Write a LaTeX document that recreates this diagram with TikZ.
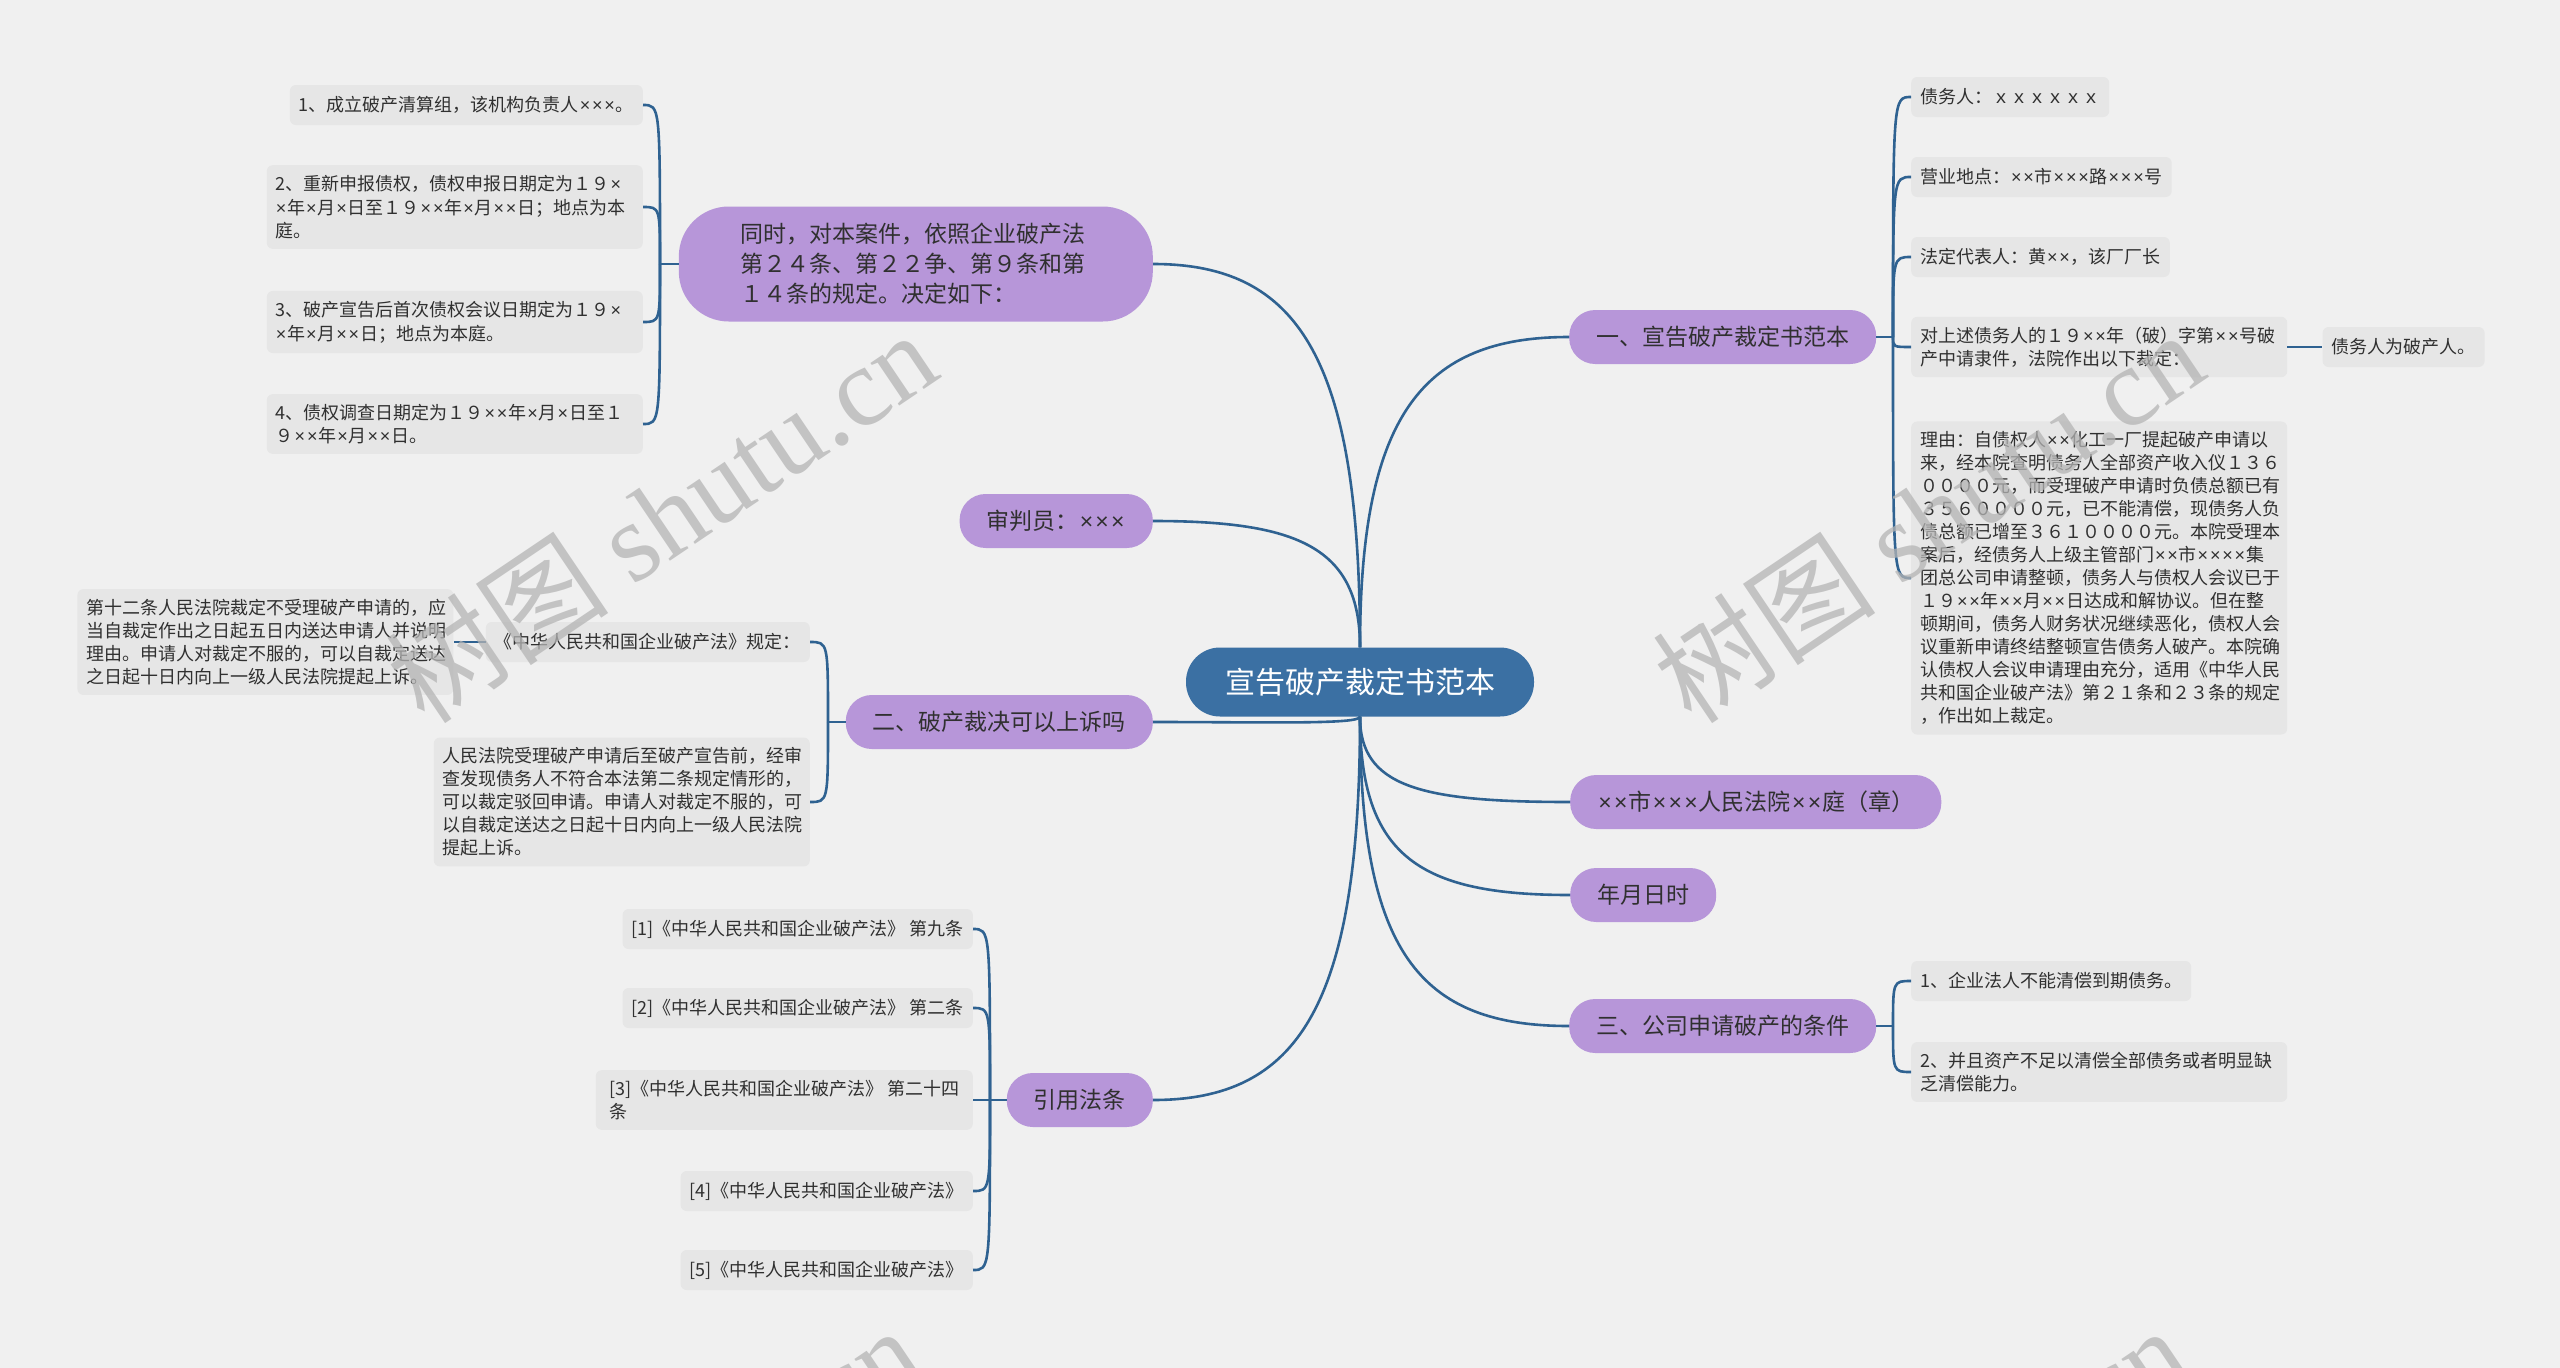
\documentclass[tikz,border=0pt]{standalone}
\usepackage{fontspec}
\usepackage{newunicodechar}
\newfontfamily\cjk{Noto Sans CJK SC}
\newfontfamily\latinx{Liberation Sans}
\newfontfamily\wmserif{Liberation Serif}
\newunicodechar{×}{{\latinx\kern0.05em\char"00D7\kern0.05em}}
\usetikzlibrary{positioning}
\definecolor{bgcol}{HTML}{F0F0F0}
\definecolor{leafcol}{HTML}{E6E6E6}
\definecolor{purplecol}{HTML}{B796D9}
\definecolor{rootcol}{HTML}{3B70A3}
\definecolor{linecol}{HTML}{2F6291}
\definecolor{txtcol}{HTML}{303030}
\definecolor{wmcol}{HTML}{B4B4B4}
\tikzset{
  leaf/.style={fill=leafcol, rounded corners=6pt, inner xsep=9pt, inner ysep=10pt, minimum height=40pt, align=left, text=txtcol, font=\cjk\fontsize{18pt}{23pt}\selectfont},
  branch/.style={fill=purplecol, rounded corners=26pt, minimum height=54pt, inner xsep=27pt, text=txtcol, font=\cjk\fontsize{23pt}{30pt}\selectfont},
  rootnode/.style={fill=rootcol, rounded corners=34pt, minimum width=348pt, minimum height=69pt, text=white, font=\cjk\fontsize{30pt}{36pt}\selectfont},
  link/.style={draw=linecol, line width=2.6pt},
  watermark/.style={rotate=34, text=wmcol, opacity=0.75, font=\cjk\fontsize{112pt}{112pt}\selectfont}
}

\begin{document}
\begin{tikzpicture}[x=1pt,y=1pt]
\fill[bgcol] (0,0) rectangle (2560,-1368);
\useasboundingbox (0,0) rectangle (2560,-1368);
\clip (0,0) rectangle (2560,-1368);

\node[rootnode] (root) at (1360,-682) {宣告破产裁定书范本};

% left side
\node[branch, anchor=east, text width=350pt, minimum height=115pt, rounded corners=50pt, inner xsep=62pt, align=left] (tongshi) at (1153,-264) {同时，对本案件，依照企业破产法\\第２４条、第２２争、第９条和第\\１４条的规定。决定如下：};
\node[branch, anchor=east] (shenpan) at (1153,-521) {审判员：×××};
\node[branch, anchor=east] (shangsu) at (1153,-722) {二、破产裁决可以上诉吗};
\node[branch, anchor=east] (fatiao) at (1153,-1100) {引用法条};

\node[leaf, anchor=east] (jd1) at (643,-105) {1、成立破产清算组，该机构负责人×××。};
\node[leaf, anchor=east, text width=358pt] (jd2) at (643,-207) {2、重新申报债权，债权申报日期定为１９×\\×年×月×日至１９××年×月××日；地点为本\\庭。};
\node[leaf, anchor=east, text width=358pt] (jd3) at (643,-322) {3、破产宣告后首次债权会议日期定为１９×\\×年×月××日；地点为本庭。};
\node[leaf, anchor=east, text width=358pt] (jd4) at (643,-424) {4、债权调查日期定为１９××年×月×日至１\\９××年×月××日。};

\node[leaf, anchor=east] (guiding) at (810,-642) {《中华人民共和国企业破产法》规定：};
\node[leaf, left=32pt of guiding, text width=358pt] (tiao12) {第十二条人民法院裁定不受理破产申请的，应\\当自裁定作出之日起五日内送达申请人并说明\\理由。申请人对裁定不服的，可以自裁定送达\\之日起十日内向上一级人民法院提起上诉。};
\node[leaf, anchor=east, text width=358pt] (bohui) at (810,-802) {人民法院受理破产申请后至破产宣告前，经审\\查发现债务人不符合本法第二条规定情形的，\\可以裁定驳回申请。申请人对裁定不服的，可\\以自裁定送达之日起十日内向上一级人民法院\\提起上诉。};

\node[leaf, anchor=east] (fl1) at (973,-929) {[1]《中华人民共和国企业破产法》 第九条};
\node[leaf, anchor=east] (fl2) at (973,-1008) {[2]《中华人民共和国企业破产法》 第二条};
\node[leaf, anchor=east, minimum width=377pt] (fl3) at (973,-1100) {[3]《中华人民共和国企业破产法》 第二十四\\条};
\node[leaf, anchor=east] (fl4) at (973,-1191) {[4]《中华人民共和国企业破产法》};
\node[leaf, anchor=east] (fl5) at (973,-1270) {[5]《中华人民共和国企业破产法》};

% right side
\node[branch, anchor=west] (yi) at (1569,-337) {一、宣告破产裁定书范本};
\node[branch, anchor=west] (fayuan) at (1570,-802) {××市×××人民法院××庭（章）};
\node[branch, anchor=west] (nianyue) at (1570,-895) {年月日时};
\node[branch, anchor=west] (san) at (1569,-1026) {三、公司申请破产的条件};

\node[leaf, anchor=west] (zwr) at (1911,-97) {债务人：ｘｘｘｘｘｘ};
\node[leaf, anchor=west] (didian) at (1911,-177) {营业地点：××市×××路×××号};
\node[leaf, anchor=west] (daibiao) at (1911,-257) {法定代表人：黄××，该厂厂长};
\node[leaf, anchor=west, text width=358pt] (caiding) at (1911,-347) {对上述债务人的１９××年（破）字第××号破\\产中请隶件，法院作出以下裁定：};
\node[leaf, right=35pt of caiding] (pcr) {债务人为破产人。};
\node[leaf, anchor=west, text width=358pt] (liyou) at (1911,-578) {理由：自债权人××化工一厂提起破产申请以\\来，经本院查明债务人全部资产收入仪１３６\\００００元，而受理破产申请时负债总额已有\\３５６００００元，已不能清偿，现债务人负\\债总额已增至３６１００００元。本院受理本\\案后，经债务人上级主管部门××市××××集\\团总公司申请整顿，债务人与债权人会议已于\\１９××年××月××日达成和解协议。但在整\\顿期间，债务人财务状况继续恶化，债权人会\\议重新申请终结整顿宣告债务人破产。本院确\\认债权人会议申请理由充分，适用《中华人民\\共和国企业破产法》第２１条和２３条的规定\\，作出如上裁定。};

\node[leaf, anchor=west] (tj1) at (1911,-981) {1、企业法人不能清偿到期债务。};
\node[leaf, anchor=west, text width=358pt] (tj2) at (1911,-1072) {2、并且资产不足以清偿全部债务或者明显缺\\乏清偿能力。};

% root links
\draw[link] (root.north) .. controls +(0,290) and +(145,0) .. (tongshi.east);
\draw[link] (root.north) .. controls +(0,100) and +(145,0) .. (shenpan.east);
\draw[link] (root.north) .. controls +(0,233) and +(-146,0) .. (yi.west);
\draw[link] (root.south) .. controls +(0,-8) and +(110,0) .. (shangsu.east);
\draw[link] (root.south) .. controls +(0,-290) and +(145,0) .. (fatiao.east);
\draw[link] (root.south) .. controls +(0,-70) and +(-150,0) .. (fayuan.west);
\draw[link] (root.south) .. controls +(0,-140) and +(-150,0) .. (nianyue.west);
\draw[link] (root.south) .. controls +(0,-235) and +(-150,0) .. (san.west);

% brackets
\coordinate (j1) at (660,-264);
\draw[link] (tongshi.west) -- (j1);
\foreach \n in {jd1,jd2,jd3,jd4}
  \draw[link] (j1) .. controls (j1 |- \n.east) .. (\n.east);

\coordinate (j2) at (828,-722);
\draw[link] (shangsu.west) -- (j2);
\foreach \n in {guiding,bohui}
  \draw[link] (j2) .. controls (j2 |- \n.east) .. (\n.east);
\draw[link] (guiding.west) -- (tiao12.east);

\coordinate (j3) at (990,-1100);
\draw[link] (fatiao.west) -- (j3);
\foreach \n in {fl1,fl2,fl3,fl4,fl5}
  \draw[link] (j3) .. controls (j3 |- \n.east) .. (\n.east);

\coordinate (j4) at (1893,-337);
\draw[link] (yi.east) -- (j4);
\foreach \n in {zwr,didian,daibiao,caiding,liyou}
  \draw[link] (j4) .. controls (j4 |- \n.west) .. (\n.west);
\draw[link] (caiding.east) -- (pcr.west);

\coordinate (j5) at (1893,-1026);
\draw[link] (san.east) -- (j5);
\foreach \n in {tj1,tj2}
  \draw[link] (j5) .. controls (j5 |- \n.west) .. (\n.west);

% watermark
\foreach \wx/\wy in {661/-516, 1928/-516, 645/-1512, 1912/-1512}
  \node[watermark] (wm) at (\wx,\wy) {树图 {\wmserif shutu.cn}};
\end{tikzpicture}
\end{document}
